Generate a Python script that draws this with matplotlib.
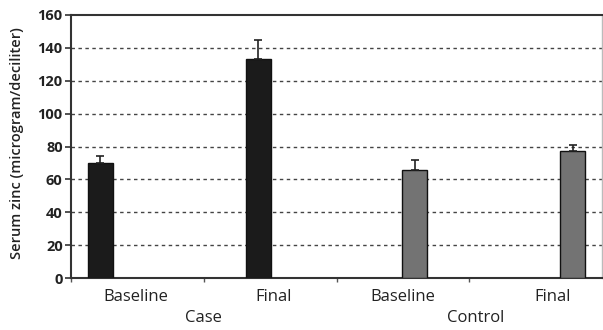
import matplotlib
matplotlib.use("Agg")
import matplotlib.pyplot as plt
from matplotlib.transforms import blended_transform_factory

# values
groups = ["Case", "Control"]
phases = ["Baseline", "Final", "Baseline", "Final"]
means = [70, 133.5, 65.5, 77.5]
errors = [4, 11, 6.5, 3.5]
bar_colors = ["#1b1b1b", "#1b1b1b", "#737373", "#737373"]

# layout on a 0..4 category axis
bar_pos = [0.22, 1.41, 2.59, 3.78]
phase_pos = [0.49, 1.53, 2.5, 3.63]
group_pos = [1.0, 3.05]

plt.rcParams['font.family'] = ['Open Sans', 'DejaVu Sans']

fig = plt.figure(figsize=(6.03, 3.3), dpi=100)
ax = fig.add_axes([71 / 603, 1 - 278 / 330, 531 / 603, 263 / 330])

ax.bar(bar_pos, means, width=0.19, color=bar_colors, edgecolor="#111111",
       linewidth=1.0, zorder=3)
ax.errorbar(bar_pos, means, yerr=[[0] * 4, errors], fmt="none",
            ecolor="#222222", elinewidth=1.2, capsize=3, capthick=1.2, zorder=4)

ax.set_xlim(0, 4)
ax.set_ylim(0, 160)
ax.set_yticks(range(0, 161, 20))
ax.set_yticklabels([str(v) for v in range(0, 161, 20)], fontsize=10.5,
                   fontweight="bold", color="#222222")
for v in range(20, 160, 20):
    ax.axhline(v, color="#444444", linestyle=(0, (2.5, 2.5)), linewidth=1.0, zorder=1)

ax.set_xticks([0, 1, 2, 3])
ax.set_xticklabels([])
ax.tick_params(axis="x", direction="out", length=3, width=1, color="#555555")
ax.tick_params(axis="y", direction="out", length=4, width=1.2, color="#333333", pad=2)

for s in ["left", "bottom", "top"]:
    ax.spines[s].set_color("#333333")
    ax.spines[s].set_linewidth(1.5)
ax.spines["right"].set_color("#bbbbbb")
ax.spines["right"].set_linewidth(1.0)

trans = blended_transform_factory(ax.transData, fig.transFigure)
for p, lab in zip(phase_pos, phases):
    ax.text(p, 1 - 297 / 330, lab, transform=trans, ha="center", va="center",
            fontsize=12, color="#222222")
for p, lab in zip(group_pos, groups):
    ax.text(p, 1 - 318 / 330, lab, transform=trans, ha="center", va="center",
            fontsize=12, color="#222222")

fig.text(17 / 603, 1 - 143 / 330, "Serum zinc (microgram/deciliter)", rotation=90,
         ha="center", va="center", fontsize=10.5, fontweight="semibold", color="#222222")

fig.savefig("out.png", dpi=100)
